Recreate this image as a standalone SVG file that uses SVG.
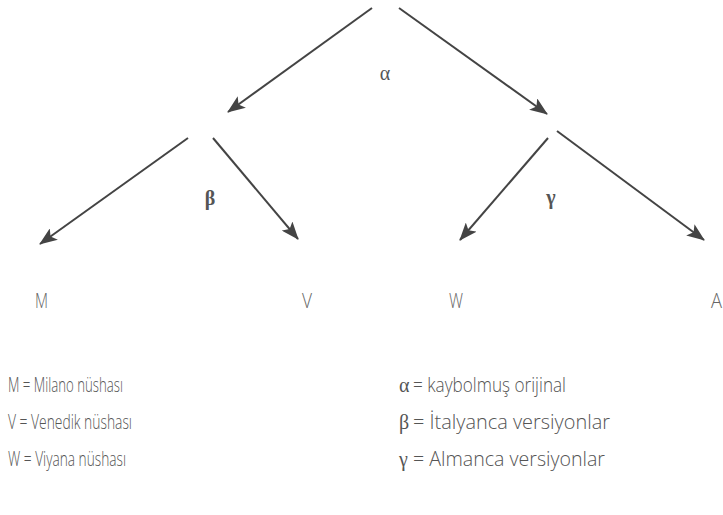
<svg xmlns="http://www.w3.org/2000/svg" width="723" height="515" viewBox="0 0 723 515">
<defs>
<marker id="ah" markerUnits="userSpaceOnUse" markerWidth="18" markerHeight="14" viewBox="0 0 18 14" refX="17" refY="7" orient="auto">
<path d="M0,0 L18,7 L0,14 L4,7 z" fill="#444"/>
</marker>
<style>
.c line{stroke:#444;stroke-width:2;fill:none;marker-end:url(#ah)}
.g{font-family:"Liberation Serif",serif;font-size:20px;fill:#555;text-anchor:middle}
.gb{font-family:"Liberation Serif",serif;font-size:20px;font-weight:bold;fill:#555;text-anchor:middle}
.n{font-family:"Open Sans","DejaVu Sans",sans-serif;font-weight:300;font-size:20px;fill:#666}
.l{font-family:"Open Sans","DejaVu Sans",sans-serif;font-weight:300;font-size:20px;fill:#555}
.lg{font-family:"Liberation Serif",serif;font-size:20px;fill:#555}
</style>
</defs>
<rect width="723" height="515" fill="#fff"/>
<g class="c" id="connectors">
<line x1="372" y1="8" x2="228" y2="112"/>
<line x1="399" y1="8" x2="547" y2="114"/>
<line x1="188" y1="138" x2="40" y2="244"/>
<line x1="213" y1="138" x2="298" y2="239"/>
<line x1="548" y1="138" x2="460" y2="240"/>
<line x1="557" y1="131" x2="704" y2="240"/>
</g>
<g id="alpha"><text class="g" x="385" y="80">α</text></g>
<g id="beta"><text class="gb" x="210" y="205">β</text></g>
<g id="gamma"><text class="gb" x="551" y="204">γ</text></g>
<g id="M"><text class="n" x="35" y="308" textLength="13" lengthAdjust="spacingAndGlyphs">M</text></g>
<g id="V"><text class="n" x="302" y="308" textLength="10" lengthAdjust="spacingAndGlyphs">V</text></g>
<g id="W"><text class="n" x="449" y="308" textLength="14" lengthAdjust="spacingAndGlyphs">W</text></g>
<g id="A"><text class="n" x="711" y="308" textLength="11" lengthAdjust="spacingAndGlyphs">A</text></g>
<g id="legend">
<text class="l" x="8" y="392" textLength="115" lengthAdjust="spacingAndGlyphs">M = Milano nüshası</text>
<text class="l" x="8" y="429" textLength="124" lengthAdjust="spacingAndGlyphs">V = Venedik nüshası</text>
<text class="l" x="8" y="466" textLength="118" lengthAdjust="spacingAndGlyphs">W = Viyana nüshası</text>
<text class="lg" x="399" y="392">α</text>
<text class="l" x="413" y="392" textLength="153" lengthAdjust="spacingAndGlyphs">= kaybolmuş orijinal</text>
<text class="lg" x="399" y="429">β</text>
<text class="l" x="413" y="429" textLength="197" lengthAdjust="spacingAndGlyphs">= İtalyanca versiyonlar</text>
<text class="lg" x="399" y="466">γ</text>
<text class="l" x="413" y="466" textLength="192" lengthAdjust="spacingAndGlyphs">= Almanca versiyonlar</text>
</g>
</svg>
